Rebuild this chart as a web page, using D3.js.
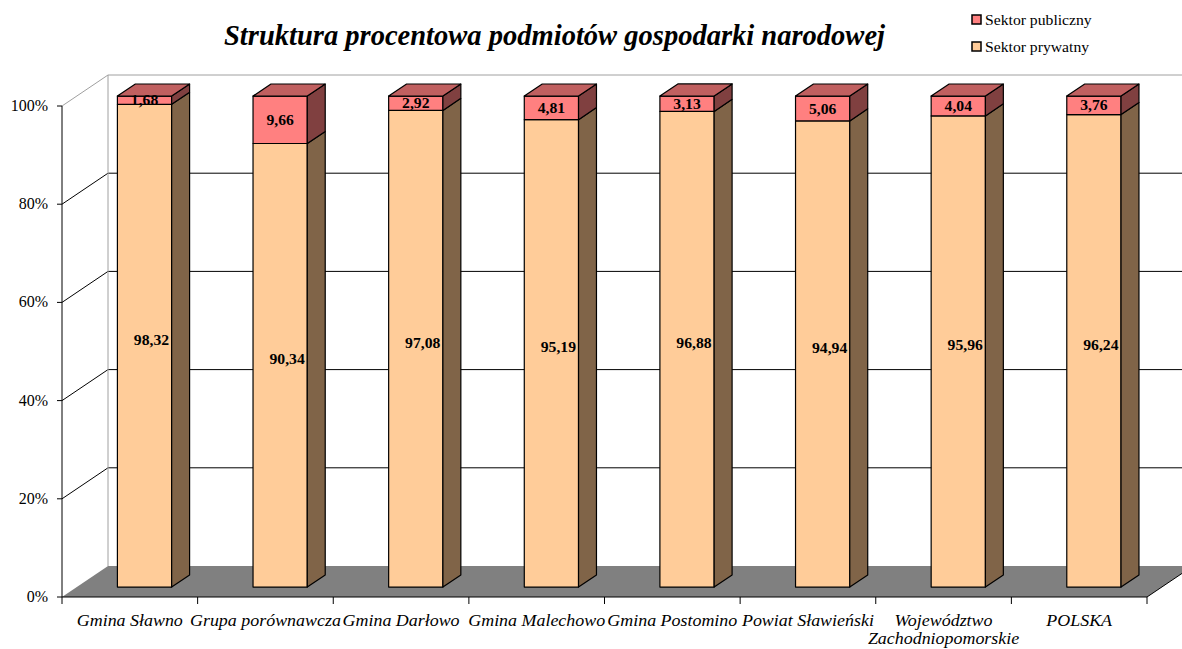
<!DOCTYPE html>
<html>
<head>
<meta charset="utf-8">
<script src="https://cdn.jsdelivr.net/npm/d3@7"></script>
<style>
  body { margin: 0; background: #fff; }
  svg { display: block; }
  .title { font-size: 30px; font-weight: bold; font-style: italic; }
  .cat { font-size: 16px; font-style: italic; }
  .tick-label { font-size: 16px; }
  .val { font-size: 14px; font-weight: bold; }
  .legend-text { font-size: 14px; }
</style>
</head>
<body>
<div id="chart"></div>
<script>
// Chart data
const categories = ['Gmina Sławno', 'Grupa porównawcza', 'Gmina Darłowo', 'Gmina Malechowo',
  'Gmina Postomino', 'Powiat Sławieński', 'Województwo Zachodniopomorskie', 'POLSKA'];
const privateShare = [98.32, 90.34, 97.08, 95.19, 96.88, 94.94, 95.96, 96.24];
const publicShare = [1.68, 9.66, 2.92, 4.81, 3.13, 5.06, 4.04, 3.76];
const yTicks = [0, 20, 40, 60, 80, 100];
const seriesNames = ['Sektor publiczny', 'Sektor prywatny'];

const W = 1182, H = 649;
const DX = 46, DY = 31;          // depth offset of the back wall
const D0 = 0.32, D1 = 0.71;      // bar front / back depth
const SX = 1.12;                 // horizontal text stretch
const FONT = "'Liberation Serif', 'Times New Roman', serif";

const svg = d3.select('#chart').append('svg')
  .attr('width', W).attr('height', H)
  .attr('font-family', FONT);

const x = d3.scaleBand().domain(categories).range([62, 1147]);
const y = d3.scaleLinear().domain([0, 100]).range([597, 106]);

// project a front-plane point to a given depth
const proj = (px, py, d) => [px + d * DX, py - d * DY];
const poly = pts => 'M' + pts.map(p => p.join(',')).join('L') + 'Z';

// text helper, stretched a bit wider like the original
function label(g, tx, ty, str, cls, anchor, sx) {
  const t = g.append('text')
    .attr('class', cls)
    .attr('x', tx).attr('y', ty)
    .attr('text-anchor', anchor || 'middle')
    .style('font-family', FONT)
    .attr('fill', '#000')
    .text(str);
  const len = t.node().getComputedTextLength();
  t.attr('textLength', len * (sx || SX)).attr('lengthAdjust', 'spacingAndGlyphs');
  return t;
}

const x0 = x.range()[0], x1 = x.range()[1];

// Back wall gridlines
const grid = svg.append('g');
yTicks.filter(v => v > 0).forEach(v => {
  const a = proj(x0, y(v), 0), b = proj(x0, y(v), 1), c = proj(x1, y(v), 1);
  const col = v === 100 ? '#a0a0a0' : '#000';
  grid.append('line').attr('x1', a[0]).attr('y1', a[1]).attr('x2', b[0]).attr('y2', b[1])
    .attr('stroke', col).attr('stroke-width', 1);
  grid.append('line').attr('x1', b[0]).attr('y1', b[1]).attr('x2', c[0]).attr('y2', c[1])
    .attr('stroke', col).attr('stroke-width', 1);
});
// back wall left edge
const bl0 = proj(x0, y(0), 1), bl1 = proj(x0, y(100), 1);
grid.append('line').attr('x1', bl0[0]).attr('y1', bl0[1]).attr('x2', bl1[0]).attr('y2', bl1[1])
  .attr('stroke', '#a0a0a0');

// Floor
svg.append('path')
  .attr('d', poly([proj(x0, y(0), 0), proj(x1, y(0), 0), proj(x1, y(0), 1), proj(x0, y(0), 1)]))
  .attr('fill', '#808080');

// Bars
const bw = x.bandwidth() * 0.4;
const bars = svg.append('g');
categories.forEach((c, i) => {
  const cx = x(c) + x.bandwidth() / 2;
  const xl = cx - bw / 2, xr = cx + bw / 2;
  const segs = [
    { v0: 0, v1: privateShare[i], front: '#FFCC99', side: '#806448', top: '#FFE0C0' },
    { v0: privateShare[i], v1: privateShare[i] + publicShare[i], front: '#FF8080', side: '#804040', top: '#C06060' }
  ];
  segs.forEach((s, k) => {
    const g = bars.append('g').attr('stroke', '#000').attr('stroke-width', 1.2).attr('stroke-linejoin', 'round');
    g.append('path').attr('fill', s.front)
      .attr('d', poly([proj(xl, y(s.v0), D0), proj(xr, y(s.v0), D0), proj(xr, y(s.v1), D0), proj(xl, y(s.v1), D0)]));
    g.append('path').attr('fill', s.side)
      .attr('d', poly([proj(xr, y(s.v0), D0), proj(xr, y(s.v0), D1), proj(xr, y(s.v1), D1), proj(xr, y(s.v1), D0)]));
    if (k === segs.length - 1) {
      g.append('path').attr('fill', s.top)
        .attr('d', poly([proj(xl, y(s.v1), D0), proj(xr, y(s.v1), D0), proj(xr, y(s.v1), D1), proj(xl, y(s.v1), D1)]));
    }
  });
  // value labels (private one sits at mid depth, as in the original)
  const pMid = proj(cx, y(privateShare[i] / 2), (D0 + D1) / 2);
  label(bars, pMid[0] - 2, pMid[1] + 5, d3.format('.2f')(privateShare[i]).replace('.', ','), 'val');
  const qMid = proj(cx, y(privateShare[i] + publicShare[i] / 2), D0);
  label(bars, qMid[0], qMid[1] + 5, d3.format('.2f')(publicShare[i]).replace('.', ','), 'val');
});

// Front axes
const axes = svg.append('g').attr('stroke', '#000').attr('stroke-width', 1);
axes.append('line').attr('x1', x0).attr('x2', x0).attr('y1', y(100)).attr('y2', y(0));
axes.append('line').attr('x1', x0).attr('x2', x1).attr('y1', y(0)).attr('y2', y(0));
yTicks.forEach(v => {
  axes.append('line').attr('x1', x0 - 5).attr('x2', x0).attr('y1', y(v)).attr('y2', y(v));
  label(svg, x0 - 14, y(v) + 5, v + '%', 'tick-label', 'end', 1);
});
const bounds = categories.map(c => x(c)).concat([x1]);
bounds.forEach(b => {
  axes.append('line').attr('x1', b).attr('x2', b).attr('y1', y(0)).attr('y2', y(0) + 7);
});
// floor right edge
const fr0 = proj(x1, y(0), 0), fr1 = proj(x1, y(0), 1);
axes.append('line').attr('x1', fr0[0]).attr('y1', fr0[1]).attr('x2', fr1[0]).attr('y2', fr1[1]);

// Category labels
categories.forEach(c => {
  const cx = x(c) + x.bandwidth() / 2;
  if (c === 'Województwo Zachodniopomorskie') {
    label(svg, cx, 626, 'Województwo', 'cat');
    label(svg, cx, 644, 'Zachodniopomorskie', 'cat');
  } else {
    label(svg, cx, 626, c, 'cat');
  }
});

// Title
svg.append('text')
  .attr('class', 'title')
  .style('font-family', FONT)
  .attr('x', 224).attr('y', 45)
  .attr('textLength', 661).attr('lengthAdjust', 'spacingAndGlyphs')
  .text('Struktura procentowa podmiotów gospodarki narodowej');

// Legend
const legendColors = ['#FF8080', '#FFCC99'];
seriesNames.forEach((n, i) => {
  const ly = 15 + i * 27;
  svg.append('rect').attr('x', 972).attr('y', ly).attr('width', 9).attr('height', 9)
    .attr('fill', legendColors[i]).attr('stroke', '#000').attr('stroke-width', 1.5);
  label(svg, 985, ly + 10, n, 'legend-text', 'start');
});
</script>
</body>
</html>
